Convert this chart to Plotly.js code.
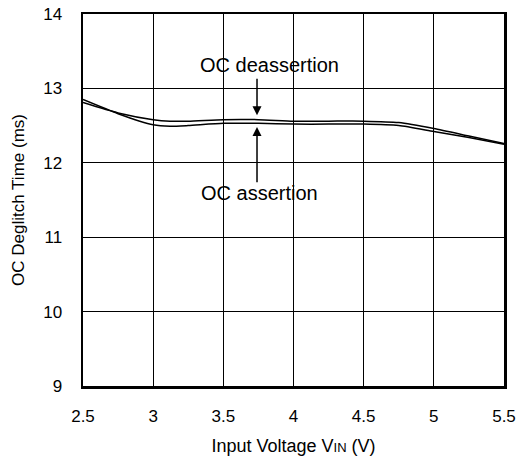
<!DOCTYPE html>
<html><head><meta charset="utf-8">
<script src="https://cdn.plot.ly/plotly-3.0.1.min.js"></script>
<style>body{margin:0;background:#fff}</style>
</head><body>
<div id="chart" style="width:519px;height:459px"></div>
<script>
const vin = [2.5, 2.75, 3.0, 3.12, 3.25, 3.5, 3.75, 4.0, 4.25, 4.5, 4.75, 5.0, 5.25, 5.5];
const assertion   = [12.85, 12.66, 12.51, 12.49, 12.50, 12.53, 12.53, 12.52, 12.52, 12.52, 12.50, 12.42, 12.34, 12.25];
const deassertion = [12.81, 12.67, 12.58, 12.56, 12.56, 12.58, 12.58, 12.56, 12.56, 12.56, 12.54, 12.46, 12.36, 12.26];
const xTicks = [2.5, 3, 3.5, 4, 4.5, 5, 5.5];
const yTicks = [9, 10, 11, 12, 13, 14];

const font = 'Liberation Sans, Arial, sans-serif';
const traces = [
  {x: vin, y: deassertion, mode: 'lines', line: {color: '#000', width: 1.5, shape: 'spline', smoothing: 0.6}, name: 'OC deassertion'},
  {x: vin, y: assertion, mode: 'lines', line: {color: '#000', width: 1.5, shape: 'spline', smoothing: 0.6}, name: 'OC assertion'}
];
const layout = {
  width: 519, height: 459,
  margin: {l: 82.5, r: 15, t: 13.5, b: 73},
  paper_bgcolor: '#fff', plot_bgcolor: '#fff',
  showlegend: false,
  font: {family: font, color: '#000', size: 17},
  xaxis: {
    range: [2.5, 5.5], tickvals: xTicks, ticktext: xTicks.map(String),
    showgrid: true, gridcolor: '#000', gridwidth: 1,
    showline: true, linecolor: '#000', linewidth: 2.5, mirror: true,
    ticks: '', ticklabelstandoff: 13, zeroline: false,
    tickfont: {size: 17},
    title: {text: 'Input Voltage V<span style="font-size:13px">IN</span> (V)', font: {size: 18}, standoff: 15}
  },
  yaxis: {
    range: [9, 14], tickvals: yTicks, ticktext: yTicks.map(String),
    showgrid: true, gridcolor: '#000', gridwidth: 1,
    showline: true, linecolor: '#000', linewidth: 2.5, mirror: true,
    ticks: '', ticklabelstandoff: 15, zeroline: false,
    tickfont: {size: 17},
    title: {text: 'OC Deglitch Time (ms)', font: {size: 17}, standoff: 14}
  },
  annotations: [
    {x: 3.83, y: 13.32, xref: 'x', yref: 'y', text: 'OC deassertion', showarrow: false, font: {size: 20}},
    {x: 3.76, y: 11.59, xref: 'x', yref: 'y', text: 'OC assertion', showarrow: false, font: {size: 20}},
    {x: 3.74, y: 12.64, ax: 3.74, ay: 13.15, xref: 'x', yref: 'y', axref: 'x', ayref: 'y', text: '', showarrow: true, arrowhead: 2, arrowsize: 1.2, arrowwidth: 1.5, arrowcolor: '#000'},
    {x: 3.74, y: 12.48, ax: 3.74, ay: 11.72, xref: 'x', yref: 'y', axref: 'x', ayref: 'y', text: '', showarrow: true, arrowhead: 2, arrowsize: 1.2, arrowwidth: 1.5, arrowcolor: '#000'}
  ]
};
Plotly.newPlot('chart', traces, layout, {staticPlot: true, displayModeBar: false});
</script>
</body></html>
